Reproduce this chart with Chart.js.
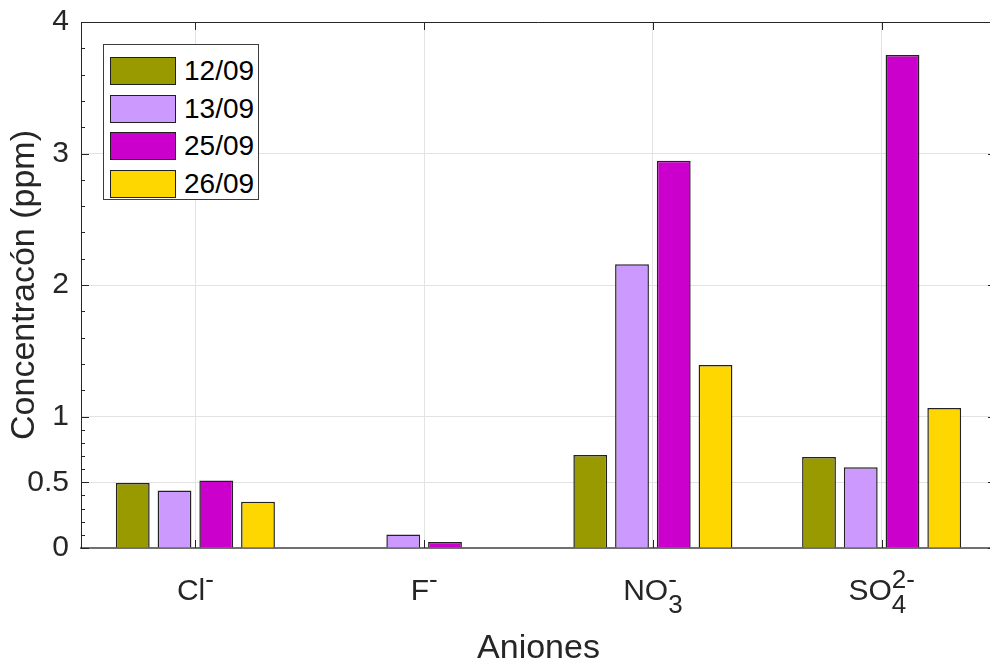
<!DOCTYPE html>
<html lang="es">
<head>
    <meta charset="UTF-8">
    <title>Aniones</title>
    <script src="https://cdn.jsdelivr.net/npm/chart.js"></script>
    <style>
        html, body { margin: 0; padding: 0; background: #fff; overflow: hidden; }
        .chart-container { position: relative; width: 990px; height: 662px; overflow: hidden; }
        .custom-legend {
            position: absolute; left: 103px; top: 44px; width: 156px; height: 156px;
            border: 1px solid #3c3c3c; background: #fff; box-sizing: border-box;
            font-family: 'Liberation Sans', Arial, sans-serif; font-size: 28px; color: #000;
            padding-top: 7px;
        }
        .custom-legend-item { display: flex; align-items: center; height: 37.7px; padding-left: 6px; }
        .custom-legend-box { width: 64px; height: 26px; border: 1px solid #1f1f1f; margin-right: 8px; }
    </style>
</head>
<body>
    <div class="chart-container">
        <canvas id="anionChart" width="1000" height="662"></canvas>
    </div>
    <script>
        // data
        const categories = ['Cl⁻', 'F⁻', 'NO₃⁻', 'SO₄²⁻'];
        const labelBase = ['Cl', 'F', 'NO', 'SO'];
        const labelSup = ['-', '-', '-', '2-'];
        const labelSub = ['', '', '3', '4'];
        const dates = ['12/09', '13/09', '25/09', '26/09'];
        const conc1209 = [0.495, 0, 0.708, 0.692];
        const conc1309 = [0.438, 0.103, 2.157, 0.615];
        const conc2509 = [0.513, 0.046, 2.945, 3.75];
        const conc2609 = [0.352, 0, 1.392, 1.065];
        const yTicks = [0, 0.5, 1, 2, 3, 4];
        const yMinorTicks = [0.1, 0.2, 0.3, 0.4, 0.6, 0.7, 0.8, 0.9, 1.2, 1.4, 1.6, 1.8, 2.2, 2.4, 2.6, 2.8, 3.2, 3.4, 3.6, 3.8];
        const colors = ['#999900', '#CC99FF', '#CC00CC', '#FFD700'];

        const FONT = "'Liberation Sans', Arial, sans-serif";
        const TXT = '#262626';

        // inward ticks, top axis line and rich category labels
        const axisExtras = {
            id: 'axisExtras',
            afterDraw(chart) {
                const { ctx, chartArea: a, scales: { x, y } } = chart;
                ctx.save();
                ctx.strokeStyle = TXT;
                ctx.lineWidth = 1;
                ctx.beginPath();
                ctx.moveTo(a.left, a.top + 0.5);
                ctx.lineTo(a.right, a.top + 0.5);
                yTicks.forEach(v => {
                    const py = Math.round(y.getPixelForValue(v)) + 0.5;
                    ctx.moveTo(a.left, py); ctx.lineTo(a.left + 8, py);
                    ctx.moveTo(a.right, py); ctx.lineTo(a.right - 8, py);
                });
                yMinorTicks.forEach(v => {
                    const py = Math.round(y.getPixelForValue(v)) + 0.5;
                    ctx.moveTo(a.left, py); ctx.lineTo(a.left + 4, py);
                    ctx.moveTo(a.right, py); ctx.lineTo(a.right - 4, py);
                });
                categories.forEach((c, i) => {
                    const px = Math.round(x.getPixelForValue(i)) + 0.5;
                    ctx.moveTo(px, a.bottom); ctx.lineTo(px, a.bottom - 8);
                    ctx.moveTo(px, a.top); ctx.lineTo(px, a.top + 8);
                });
                ctx.stroke();

                // category labels with sub/superscripts
                ctx.fillStyle = TXT;
                ctx.textAlign = 'left';
                ctx.textBaseline = 'alphabetic';
                categories.forEach((c, i) => {
                    const cx = x.getPixelForValue(i);
                    ctx.font = '30px ' + FONT;
                    const wb = ctx.measureText(labelBase[i]).width;
                    ctx.font = '26px ' + FONT;
                    const ws = Math.max(ctx.measureText(labelSup[i]).width, ctx.measureText(labelSub[i]).width);
                    const x0 = cx - (wb + ws) / 2;
                    ctx.font = '30px ' + FONT;
                    ctx.fillText(labelBase[i], x0, 600);
                    ctx.font = '26px ' + FONT;
                    ctx.fillText(labelSup[i], x0 + wb, 588);
                    ctx.fillText(labelSub[i], x0 + wb, 613);
                });
                ctx.restore();
            }
        };

        const ctx = document.getElementById('anionChart').getContext('2d');
        const series = [conc1209, conc1309, conc2509, conc2609];
        const anionChart = new Chart(ctx, {
            type: 'bar',
            data: {
                labels: categories,
                datasets: series.map((d, i) => ({
                    label: dates[i],
                    data: d,
                    backgroundColor: colors[i],
                    borderColor: '#222222',
                    borderWidth: 1.5,
                    borderSkipped: 'start',
                    barPercentage: 0.81,
                    categoryPercentage: 0.73
                }))
            },
            options: {
                responsive: false,
                animation: false,
                layout: { padding: { top: 22, right: 4, bottom: 0, left: 0 } },
                plugins: { legend: { display: false }, tooltip: { enabled: false } },
                scales: {
                    x: {
                        ticks: { display: false },
                        grid: { offset: false, color: '#e3e3e3', drawTicks: false },
                        border: { color: '#707070', width: 2 },
                        title: {
                            display: true, text: 'Aniones', color: TXT,
                            font: { family: FONT, size: 34, lineHeight: 0.8 },
                            padding: { top: 0, bottom: 0 }
                        },
                        afterFit(s) { s.height = 114; }
                    },
                    y: {
                        min: 0, max: 4,
                        afterBuildTicks(s) { s.ticks = yTicks.map(v => ({ value: v })); },
                        ticks: {
                            color: TXT, padding: 12,
                            font: { family: FONT, size: 30, lineHeight: 0.6 },
                            callback: v => String(v)
                        },
                        grid: { color: '#e3e3e3', drawTicks: false },
                        border: { color: TXT, width: 1 },
                        title: {
                            display: true, text: 'Concentracón (ppm)', color: TXT,
                            font: { family: FONT, size: 34 },
                            padding: { top: 4, bottom: 0 }
                        },
                        afterFit(s) { s.width = 81; }
                    }
                }
            },
            plugins: [axisExtras]
        });

        // custom legend inside the plot
        const legendContainer = document.createElement('div');
        legendContainer.className = 'custom-legend';
        anionChart.data.datasets.forEach(ds => {
            const item = document.createElement('div');
            item.className = 'custom-legend-item';
            const box = document.createElement('div');
            box.className = 'custom-legend-box';
            box.style.backgroundColor = ds.backgroundColor;
            const text = document.createElement('span');
            text.textContent = ds.label;
            item.appendChild(box);
            item.appendChild(text);
            legendContainer.appendChild(item);
        });
        document.querySelector('.chart-container').appendChild(legendContainer);
    </script>
</body>
</html>
